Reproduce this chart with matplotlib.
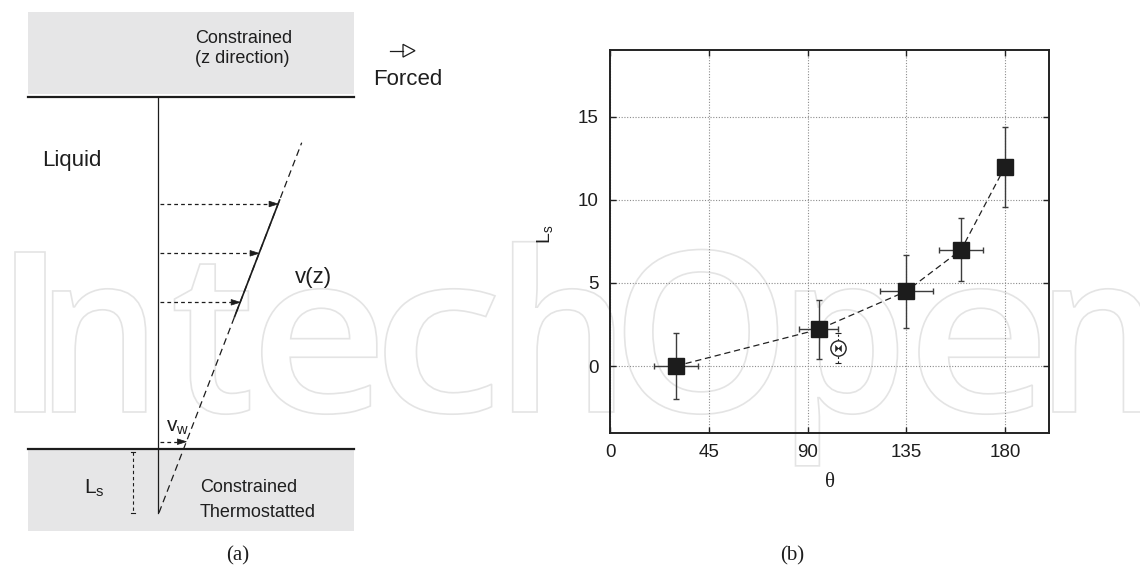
import matplotlib
matplotlib.use('Agg')
import matplotlib.pyplot as plt
from matplotlib.patches import Rectangle, Polygon, PathPatch
from matplotlib.textpath import TextPath
from matplotlib.font_manager import FontProperties
from matplotlib.transforms import Affine2D
from matplotlib.path import Path

# ---------------- data (panel b) ----------------
theta = [30, 95, 135, 160, 180]
Ls = [0.0, 2.2, 4.5, 7.0, 12.0]
theta_err = [10, 9, 12, 10, 0]
Ls_err = [2.0, 1.8, 2.2, 1.9, 2.4]
extra_theta = [104]
extra_Ls = [1.06]
extra_err = [0.9]
xticks = [0, 45, 90, 135, 180]
yticks = [0, 5, 10, 15]

plt.rcParams['font.family'] = ['Liberation Sans', 'DejaVu Sans']
plt.rcParams['mathtext.fontset'] = 'custom'
plt.rcParams['mathtext.rm'] = 'Liberation Sans'
plt.rcParams['mathtext.it'] = 'Liberation Sans:italic'

W, H = 1140, 572
fig = plt.figure(figsize=(W / 100, H / 100), dpi=100)
bg = fig.add_axes([0, 0, 1, 1])
bg.set_xlim(0, W)
bg.set_ylim(H, 0)
bg.axis('off')

# ---------------- watermark (outlined text) ----------------
fp = FontProperties(family=['Open Sans', 'DejaVu Sans'], weight='semibold')
cap = TextPath((0, 0), 'I', size=100, prop=fp).get_extents().height
s = 160.0 / cap
letters = [('I', 14.5, 30), ('n', 52.7, 93), ('t', 174.5, 75), ('e', 261.8, 115),
           ('c', 385, 110), ('h', 512.7, 101), ('O', 624.5, 153), ('p', 795.5, 102),
           ('e', 919, 120), ('n', 1053, 93)]
for ch, left, wid in letters:
    tp = TextPath((0, 0), ch, size=100, prop=fp)
    ext = tp.get_extents()
    sx = wid / ext.width
    tr = Affine2D().translate(-ext.x0, 0).scale(sx, -s).translate(left, 412)
    bg.add_patch(PathPatch(tr.transform_path(tp), fc='none', ec='#e4e4e4',
                           lw=1.2, zorder=0))

# ---------------- panel (a): schematic ----------------
gray = '#e6e6e7'
dark = '#1c1c1c'
bg.add_patch(Rectangle((28, 11.7), 326, 82.6, fc=gray, ec='none', zorder=1))
bg.add_patch(Rectangle((28, 449), 326, 81.7, fc=gray, ec='none', zorder=1))
bg.plot([28, 354], [96.7, 96.7], color=dark, lw=1.6, zorder=3)
bg.plot([28, 354], [449, 449], color=dark, lw=1.6, zorder=3)
bg.plot([158.3, 158.3], [96.7, 513], color=dark, lw=0.9, zorder=3)

x0, y0, x1, y1 = 159.0, 512.7, 301.7, 142.7
def xat(y):
    return x0 + (y0 - y) / (y0 - y1) * (x1 - x0)

bg.plot([x0, x1], [y0, y1], color=dark, lw=0.9, ls=(0, (5.5, 3.5)), zorder=3)
bg.plot([xat(316.7), xat(200)], [316.7, 200], color=dark, lw=1.2, zorder=3)

for ya in [204, 253.3, 302.3, 441.7]:
    xt = xat(ya)
    hl = 9.0
    bg.plot([160, xt - hl], [ya, ya], color=dark, lw=0.9, ls=(0, (3, 2.5)), zorder=3)
    bg.add_patch(Polygon([[xt - hl, ya - 2.8], [xt, ya], [xt - hl, ya + 2.8]],
                         closed=True, fc=dark, ec=dark, lw=0.5, zorder=4))

# Ls dashed marker
bg.plot([132.7, 132.7], [451.7, 513.3], color=dark, lw=0.8, ls=(0, (3, 2.5)), zorder=3)
bg.plot([130.5, 134.9], [451.7, 451.7], color=dark, lw=0.8, zorder=3)
bg.plot([130.5, 134.9], [513.3, 513.3], color=dark, lw=0.8, zorder=3)

# forced arrow symbol
bg.plot([390, 403], [50.7, 50.7], color=dark, lw=0.9, zorder=3)
bg.add_patch(Polygon([[403, 44.3], [415, 50.7], [403, 57.1]], closed=True,
                     fc='none', ec=dark, lw=0.9, zorder=3))

tc = '#1e1e1e'
bg.text(195, 42.7, 'Constrained', fontsize=13, ha='left', va='baseline', color=tc, zorder=5)
bg.text(195, 63, '(z direction)', fontsize=13, ha='left', va='baseline', color=tc, zorder=5)
bg.text(373, 85, 'Forced', fontsize=16, ha='left', va='baseline', color=tc, zorder=5)
bg.text(41.7, 166, 'Liquid', fontsize=16, ha='left', va='baseline', color=tc, zorder=5)
bg.text(295, 282.5, 'v(z)', fontsize=16, ha='left', va='baseline', color=tc, zorder=5)
bg.text(165.5, 432, r'$\mathrm{v}_\mathrm{w}$', fontsize=15, ha='left', va='baseline', color=tc, zorder=5)
bg.text(84, 493.3, r'$\mathrm{L}_\mathrm{s}$', fontsize=15, ha='left', va='baseline', color=tc, zorder=5)
bg.text(200, 491.7, 'Constrained', fontsize=13, ha='left', va='baseline', color=tc, zorder=5)
bg.text(200, 517, 'Thermostatted', fontsize=13, ha='left', va='baseline', color=tc, zorder=5)

serif = ['Liberation Serif', 'DejaVu Serif']
bg.text(237.5, 556, '(a)', fontsize=15, family=serif, ha='center', va='center', color=tc)
bg.text(792, 556, '(b)', fontsize=15, family=serif, ha='center', va='center', color=tc)

# ---------------- panel (b): chart ----------------
ax = fig.add_axes([610 / W, 1 - 432.5 / H, 439 / W, 382.2 / H])
ax.set_facecolor('none')
ax.set_xlim(0, 200)
ax.set_ylim(-4, 19)
ax.set_xticks(xticks)
ax.set_yticks(yticks)
ax.grid(True, ls=(0, (1, 1.5)), color='#8c8c8c', lw=0.8)
ax.set_axisbelow(True)
for sp in ax.spines.values():
    sp.set_linewidth(1.4)
    sp.set_color('#222222')
ax.tick_params(direction='in', length=4, width=1, top=True, right=True,
               labelsize=13.5, pad=8, color='#222222', labelcolor='#1e1e1e')

ax.plot(theta, Ls, ls=(0, (5, 3)), color='#222222', lw=0.9, zorder=2)
ax.errorbar(theta, Ls, xerr=theta_err, yerr=Ls_err, fmt='s', ms=11.5,
            mfc='#1c1c1c', mec='#1c1c1c', ecolor='#3c3c3c', elinewidth=1,
            capsize=2.5, capthick=1, zorder=3)

eb = ax.errorbar(extra_theta, extra_Ls, yerr=extra_err, fmt='none', ecolor='#222222',
                 elinewidth=0.8, capsize=2, capthick=0.8, zorder=3)
for lc in eb[2]:
    lc.set_linestyle((0, (2, 2)))
ax.plot(extra_theta, extra_Ls, 'o', ms=11, mfc='white', mec='#222222', mew=1, zorder=4)
bowtie = [(-1, -1), (-1, 1), (0, 0), (1, 1), (1, -1), (0, 0), (-1, -1)]
ax.plot(extra_theta, extra_Ls, marker=bowtie, ms=4.5, color='#222222', mew=0.3, zorder=5)

ax.set_xlabel('θ', fontsize=15, family=serif, color=tc)
ax.xaxis.set_label_coords(0.5, (432.5 - 482.7) / 382.2)
ax.xaxis.label.set_va('center')
ax.set_ylabel(r'$\mathrm{L}_\mathrm{s}$', fontsize=14, color=tc)
ax.yaxis.set_label_coords((545 - 610) / 439, (432.5 - 234) / 382.2)
ax.yaxis.label.set_va('center')
ax.yaxis.label.set_ha('center')

fig.savefig('out.png', dpi=100)
